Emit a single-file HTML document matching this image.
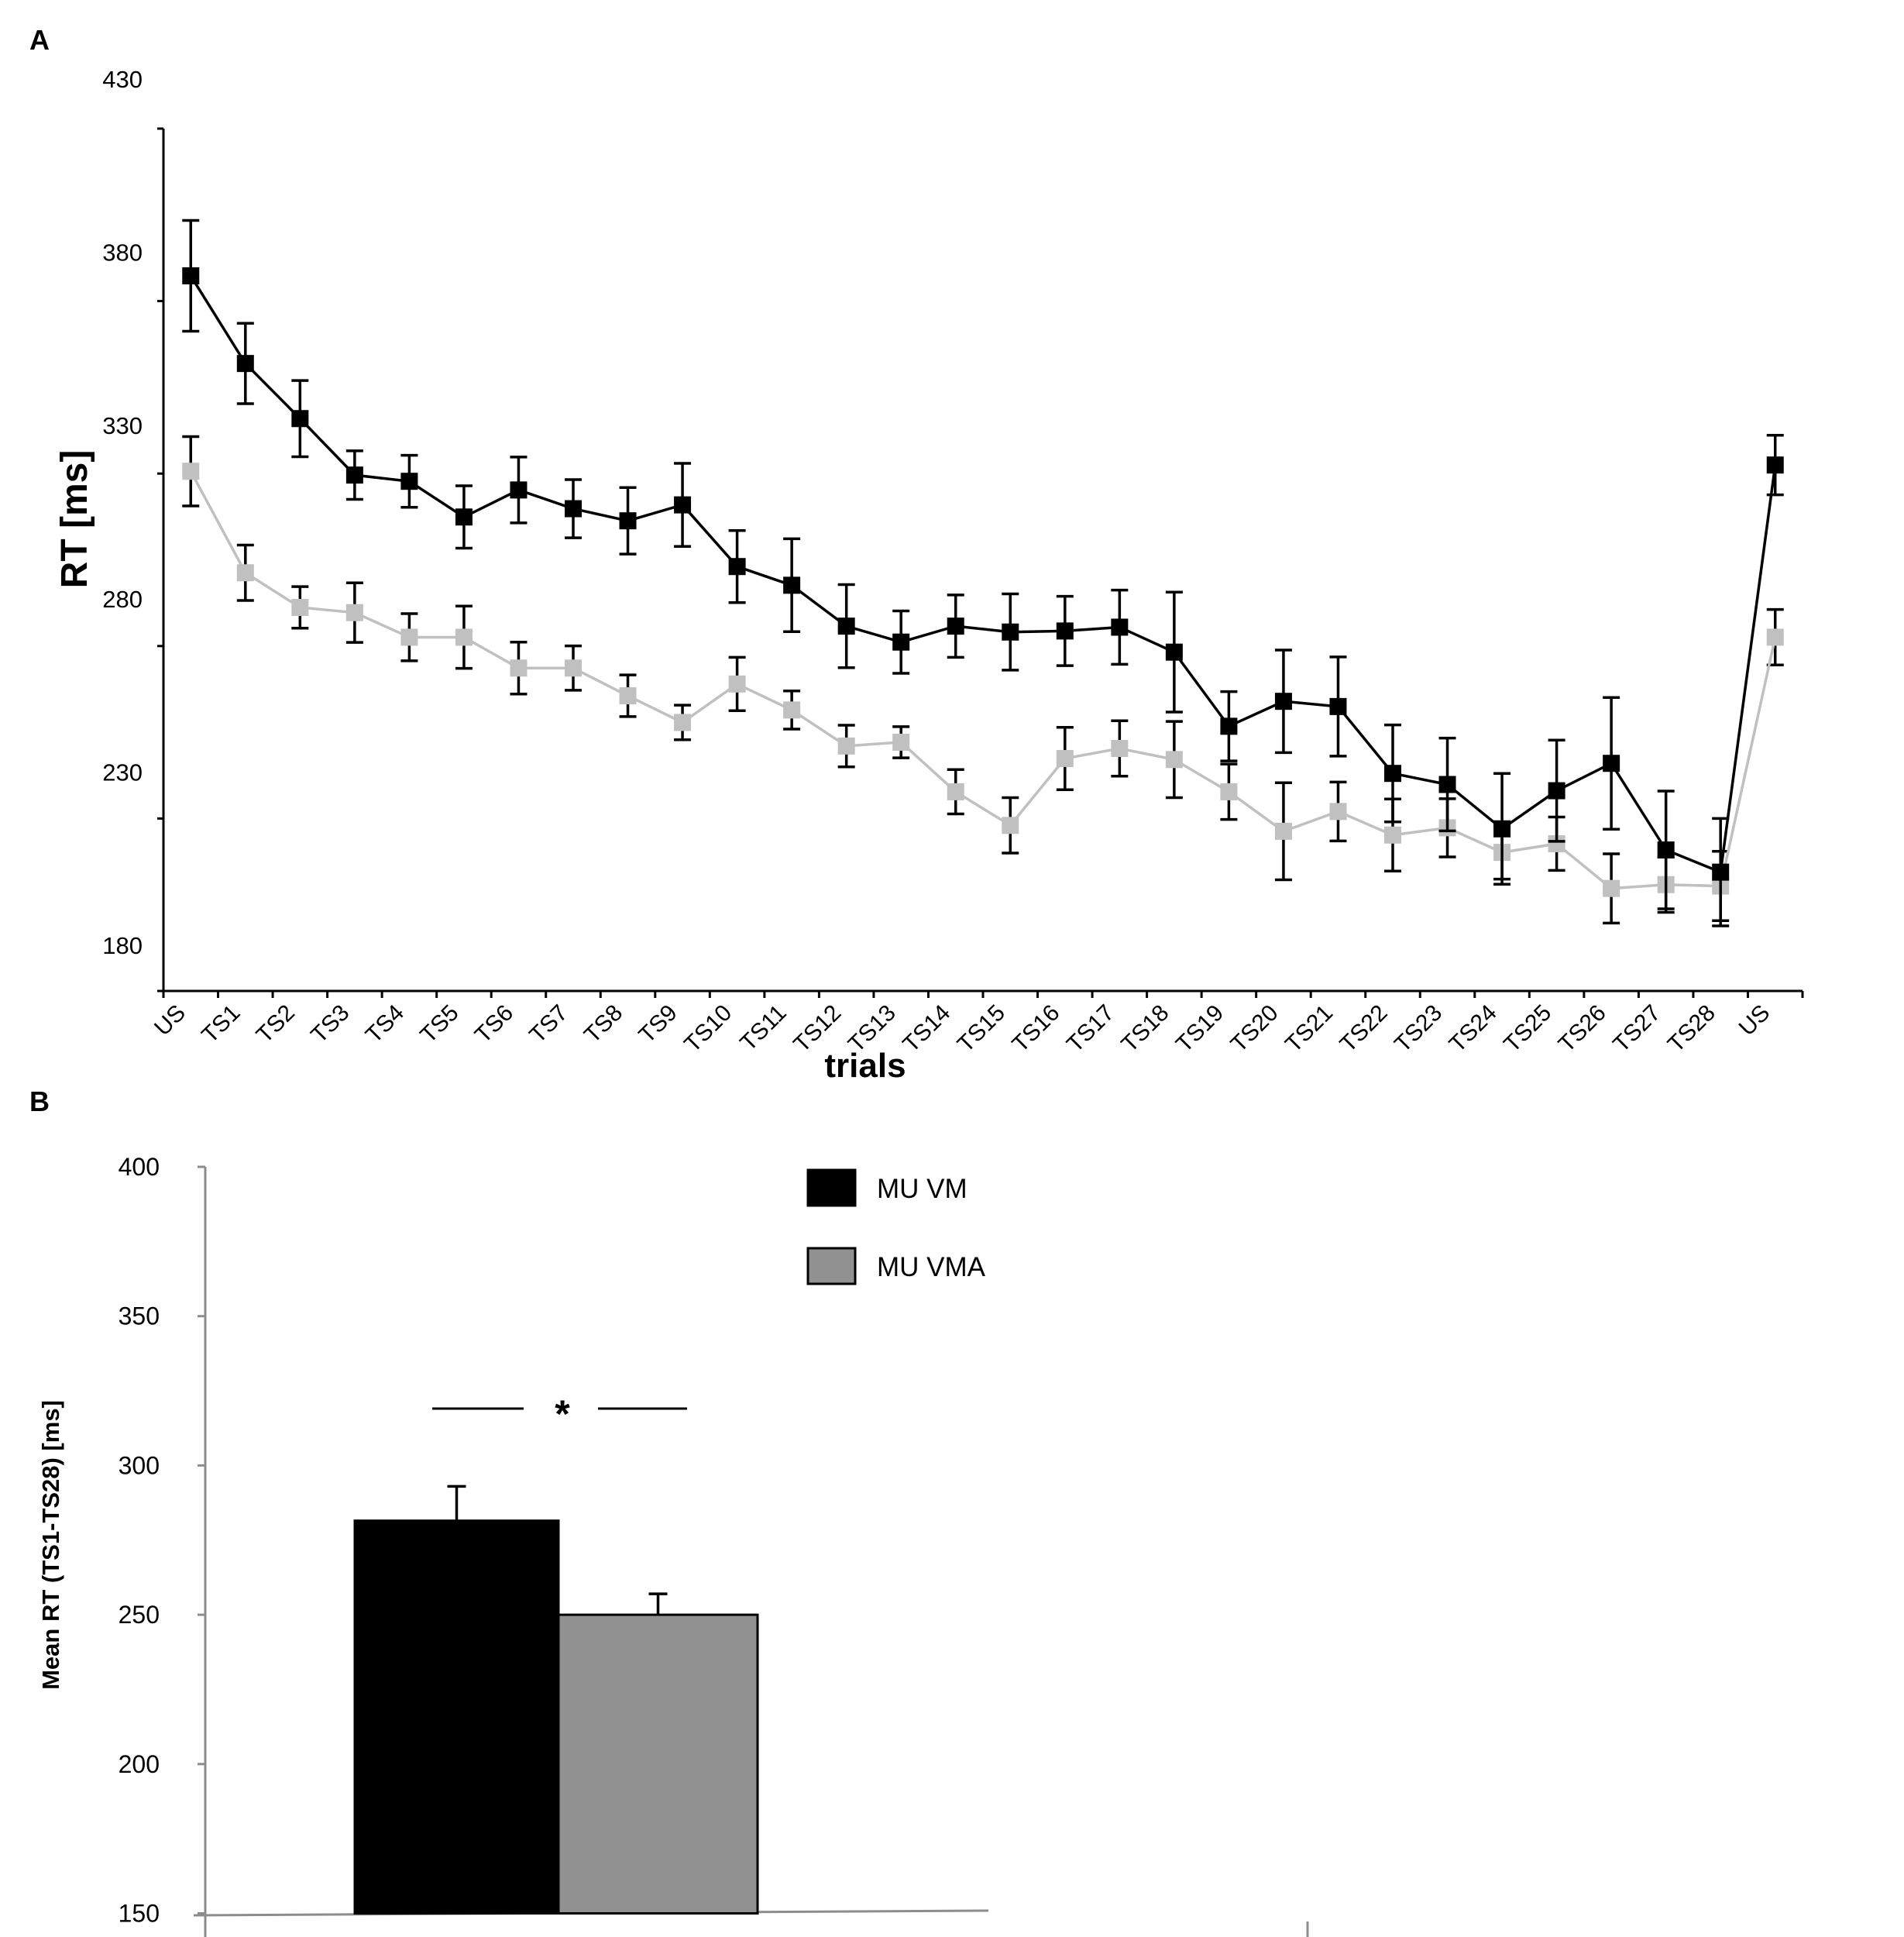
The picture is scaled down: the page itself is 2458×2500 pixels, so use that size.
<!DOCTYPE html>
<html><head><meta charset="utf-8"><style>
html,body{margin:0;padding:0;background:#fff}
svg{display:block}
text{font-family:"Liberation Sans",Arial,sans-serif}
</style></head><body>
<svg id="chart" width="2458" height="2500" viewBox="0 0 2458 2500" xmlns="http://www.w3.org/2000/svg">
<text x="38" y="64" font-size="36" font-weight="bold">A</text>
<text x="38" y="1434" font-size="36" font-weight="bold">B</text>
<g id="pa"></g>
<g id="pb"></g>
</svg>
<script>
const categories=["US","TS1","TS2","TS3","TS4","TS5","TS6","TS7","TS8","TS9","TS10","TS11","TS12","TS13","TS14","TS15","TS16","TS17","TS18","TS19","TS20","TS21","TS22","TS23","TS24","TS25","TS26","TS27","TS28","US"];
const vmValues=[373.2,347.9,332,315.7,313.9,303.6,311.4,306,302.5,307.1,289.3,283.9,272.1,267.5,272.1,270.4,270.7,271.8,264.6,243.2,250.4,248.9,229.6,226.4,213.6,224.6,232.5,207.5,201.1,318.6];
const vmErrors=[16,11.6,11,7,7.5,9,9.5,8.4,9.6,12,10.4,13.4,12,9,9,11,10,10.7,17.3,10,14.8,14.3,14,13.4,16,14.6,19,17,15.5,8.6];
const vmaValues=[316.8,287.5,277.5,276,268.9,268.9,260,260,252,244.3,255.4,247.9,237.5,238.6,224.3,214.6,233.9,236.8,233.6,224.3,212.9,218.6,211.8,213.9,206.8,209.3,196.4,197.5,197.1,268.9];
const vmaErrors=[10,8,6,8.6,6.8,9,7.5,6.4,6,5,7.7,5.5,6,4.5,6.4,8,9,8,11,8,14,8.5,10.4,8.4,7.7,7.7,10,8,10,8];
const yTicksA=[430,380,330,280,230,180];
const barLabels=["MU VM","MU VMA"];
const barValues=[281.5,250];
const barErrors=[11.5,7];
const yTicksB=[400,350,300,250,200,150];

const NS="http://www.w3.org/2000/svg";
function mk(parent,tag,attrs,txt){const e=document.createElementNS(NS,tag);for(const k in attrs)e.setAttribute(k,attrs[k]);if(txt!==undefined)e.textContent=txt;parent.appendChild(e);return e;}

// Panel A
const pa=document.getElementById('pa');
const ax0=211, ax1=2327, ayTop=166, ayBot=1279;
const bw=(ax1-ax0)/categories.length;
function xA(i){return ax0+bw*(i+0.5);}
function yA(v){return 102+(430-v)*4.472;}
let e;
e=mk(pa,'line',{x1:ax0,y1:ayTop,x2:ax0,y2:ayBot,stroke:'#000','stroke-width':3});


e=mk(pa,'line',{x1:ax0,y1:ayBot,x2:ax1,y2:ayBot,stroke:'#000','stroke-width':3});


yTicksA.forEach((t,k)=>{
  const ty=ayTop+k*(ayBot-ayTop)/5;
  e=mk(pa,'line',{x1:ax0-8,y1:ty,x2:ax0,y2:ty,stroke:'#000','stroke-width':3});
  
  
  e=mk(pa,'text',{x:184,y:yA(t)+11,'font-size':31,'text-anchor':'end'},t);
  
  
});
for(let k=0;k<=categories.length;k++){
  const tx=ax0+k*bw;
  e=mk(pa,'line',{x1:tx,y1:ayBot,x2:tx,y2:ayBot+9,stroke:'#000','stroke-width':3});
  
  
}
categories.forEach((c,i)=>{
  const tx=ax0+i*bw+30, ty=ayBot+30;
  e=mk(pa,'text',{x:tx,y:ty,'font-size':30,'text-anchor':'end',transform:`rotate(-45 ${tx} ${ty})`},c);
  
  
});
e=mk(pa,'text',{x:112,y:670,'font-size':48,'font-weight':'bold','text-anchor':'middle',transform:'rotate(-90 112 670)'},'RT [ms]');


e=mk(pa,'text',{x:1117,y:1390,'font-size':44,'font-weight':'bold','text-anchor':'middle'},'trials');



function series(vals,errs,color,name){
  const g=mk(pa,'g',{});
  
  
  errs.forEach((er,i)=>{
    const x=xA(i),y1=yA(vals[i]+er),y2=yA(vals[i]-er);
    e=mk(g,'path',{d:`M${x},${y1}V${y2}M${x-11},${y1}H${x+11}M${x-11},${y2}H${x+11}`,stroke:'#000','stroke-width':3.5,fill:'none'});
    
    
  });
  e=mk(g,'polyline',{points:vals.map((v,i)=>xA(i)+','+yA(v)).join(' '),stroke:color,'stroke-width':3.5,fill:'none'});
  
  
  vals.forEach((v,i)=>{
    e=mk(g,'rect',{x:xA(i)-11,y:yA(v)-11,width:22,height:22,fill:color});
    
    
  });
}
series(vmaValues,vmaErrors,'#c0c0c0','mu-vma');
series(vmValues,vmErrors,'#000000','mu-vm');

// Panel B
const pb=document.getElementById('pb');
const bx=265;
function yB(v){return 1506+(400-v)*3.854;}
e=mk(pb,'line',{x1:bx,y1:1506,x2:bx,y2:2500,stroke:'#8c8c8c','stroke-width':3});


e=mk(pb,'line',{x1:250,y1:2472,x2:1276,y2:2466,stroke:'#8c8c8c','stroke-width':3});


e=mk(pb,'line',{x1:1688,y1:2480,x2:1688,y2:2500,stroke:'#8c8c8c','stroke-width':3});


yTicksB.forEach(t=>{
  const ty=yB(t);
  e=mk(pb,'line',{x1:bx-10,y1:ty,x2:bx,y2:ty,stroke:'#8c8c8c','stroke-width':3});
  
  
  e=mk(pb,'text',{x:206,y:ty+11,'font-size':32,'text-anchor':'end'},t);
  
  
});
e=mk(pb,'text',{x:76,y:1994,'font-size':31,'font-weight':'bold','text-anchor':'middle',transform:'rotate(-90 76 1994)'},'Mean RT (TS1-TS28) [ms]');


const barX=[458,721], barW=[263,257], barFill=['#000','#919191'];
barValues.forEach((v,i)=>{
  const top=yB(v), base=yB(150);
  e=mk(pb,'rect',{x:barX[i],y:top,width:barW[i],height:base-top,fill:barFill[i],stroke:'#000','stroke-width':3});
  
  
  const cx=barX[i]+barW[i]/2, et=yB(v+barErrors[i]);
  e=mk(pb,'path',{d:`M${cx},${top}V${et}M${cx-12},${et}H${cx+12}`,stroke:'#000','stroke-width':3.5,fill:'none'});
  
  
});
e=mk(pb,'path',{d:'M558,1818H676M772,1818H887',stroke:'#000','stroke-width':3});


e=mk(pb,'text',{x:726,y:1842,'font-size':50,'font-weight':'bold','text-anchor':'middle'},'*');


const legY=[1510,1611];
barLabels.forEach((l,i)=>{
  e=mk(pb,'rect',{x:1043,y:legY[i],width:61,height:46,fill:barFill[i],stroke:'#000','stroke-width':3});
  
  
  e=mk(pb,'text',{x:1132,y:legY[i]+36,'font-size':35},l);
  
  
});
</script>
</body></html>
